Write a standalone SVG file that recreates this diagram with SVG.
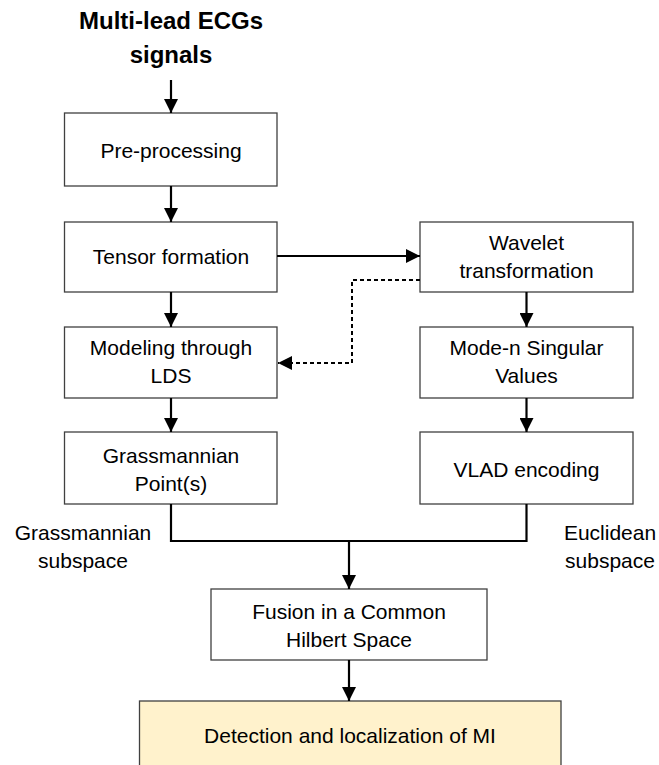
<svg xmlns="http://www.w3.org/2000/svg" width="659" height="765" viewBox="0 0 659 765">
<style>
.box{fill:#ffffff;stroke:#404040;stroke-width:1.3}
.hl{fill:#fff2cc;stroke:#404040;stroke-width:1.3}
.t{font-family:"Liberation Sans",Arial,sans-serif;font-size:21px;fill:#000;text-anchor:middle}
.title{font-family:"Liberation Sans",Arial,sans-serif;font-size:24px;font-weight:bold;fill:#000;text-anchor:middle}
.c{fill:none;stroke:#000;stroke-width:2.2}
.d{fill:none;stroke:#000;stroke-width:2;stroke-dasharray:4 3}
</style>
<defs>
<marker id="ah" markerUnits="userSpaceOnUse" markerWidth="14" markerHeight="14" viewBox="0 0 14 14" refX="14" refY="7" orient="auto">
<path d="M0,0 L14,7 L0,14 Z" fill="#000"/>
</marker>
</defs>
<rect width="659" height="765" fill="#fff"/>
<g id="title">
<text class="title" x="171" y="29">Multi-lead ECGs</text>
<text class="title" x="171" y="63">signals</text>
</g>
<g id="preprocessing">
<rect class="box" x="64.5" y="113" width="212.5" height="73"/>
<text class="t" x="171" y="158">Pre-processing</text>
</g>
<g id="tensor">
<rect class="box" x="64.5" y="222" width="212.5" height="70"/>
<text class="t" x="171" y="264">Tensor formation</text>
</g>
<g id="wavelet">
<rect class="box" x="420" y="222" width="213" height="70"/>
<text class="t" x="526.5" y="250">Wavelet</text>
<text class="t" x="526.5" y="278">transformation</text>
</g>
<g id="modeling">
<rect class="box" x="64.5" y="327" width="212.5" height="71"/>
<text class="t" x="171" y="355">Modeling through</text>
<text class="t" x="171" y="383">LDS</text>
</g>
<g id="moden">
<rect class="box" x="420" y="327" width="213" height="71"/>
<text class="t" x="526.5" y="355">Mode-n Singular</text>
<text class="t" x="526.5" y="383">Values</text>
</g>
<g id="grassmannian">
<rect class="box" x="64.5" y="432" width="212.5" height="72"/>
<text class="t" x="171" y="463">Grassmannian</text>
<text class="t" x="171" y="491">Point(s)</text>
</g>
<g id="vlad">
<rect class="box" x="420" y="432" width="213" height="72"/>
<text class="t" x="526.5" y="477">VLAD encoding</text>
</g>
<g id="label-grassmannian">
<text class="t" x="83" y="540">Grassmannian</text>
<text class="t" x="83" y="568">subspace</text>
</g>
<g id="label-euclidean">
<text class="t" x="610" y="540">Euclidean</text>
<text class="t" x="610" y="568">subspace</text>
</g>
<g id="fusion">
<rect class="box" x="211" y="589" width="276" height="71"/>
<text class="t" x="349" y="619">Fusion in a Common</text>
<text class="t" x="349" y="647">Hilbert Space</text>
</g>
<g id="detection">
<rect class="hl" x="139.5" y="701" width="421.5" height="70"/>
<text class="t" x="350" y="743">Detection and localization of MI</text>
</g>
<g id="connectors">
<path class="c" d="M171,80 V113" marker-end="url(#ah)"/>
<path class="c" d="M171,186 V222" marker-end="url(#ah)"/>
<path class="c" d="M171,292 V327" marker-end="url(#ah)"/>
<path class="c" d="M171,398 V432" marker-end="url(#ah)"/>
<path class="c" d="M277,256 H420" marker-end="url(#ah)"/>
<path class="c" d="M526.5,292 V327" marker-end="url(#ah)"/>
<path class="c" d="M526.5,398 V432" marker-end="url(#ah)"/>
<path class="d" d="M420,280 H352 V363 H278" marker-end="url(#ah)"/>
<path class="c" d="M171,504 V541 H526.5 V504"/>
<path class="c" d="M349,541 V589" marker-end="url(#ah)"/>
<path class="c" d="M349,660 V701" marker-end="url(#ah)"/>
</g>
</svg>
